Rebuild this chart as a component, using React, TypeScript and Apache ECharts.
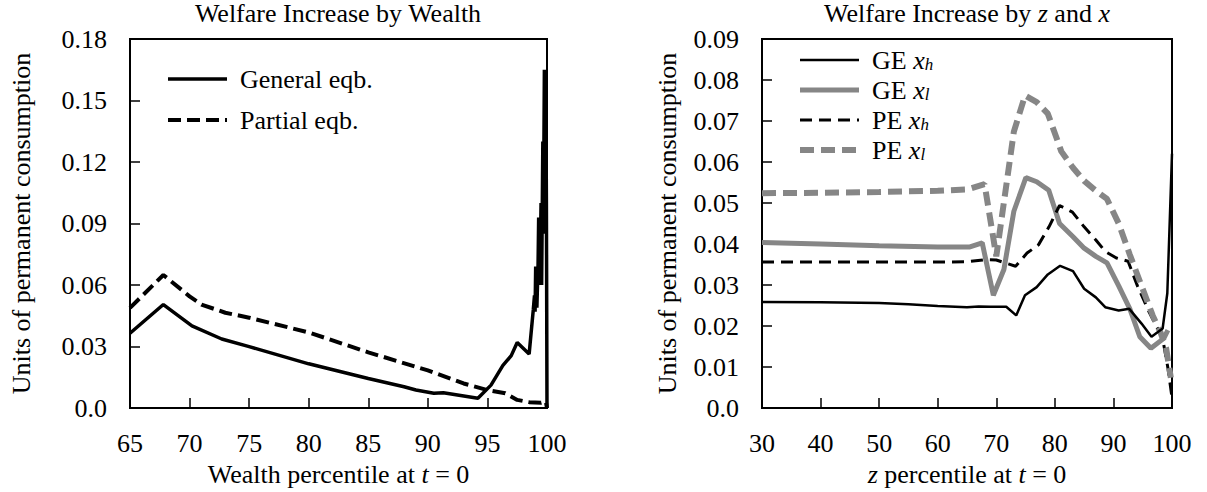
import React, { useEffect, useRef } from "react";
import * as echarts from "echarts";

// ---------- Data ----------
// Left panel: welfare increase by wealth percentile
const leftGeX = [65, 67.8, 70.2, 72.7, 75, 80, 85, 88, 89, 90.5, 91.3, 94.2, 95.3, 96.3, 97, 97.5, 98.5, 98.85, 98.95, 99.0, 99.05, 99.15, 99.25, 99.3, 99.4, 99.5, 99.55, 99.65, 99.7, 99.78, 99.85, 99.9, 99.95, 100];
const leftGeY = [0.0365, 0.0505, 0.0401, 0.0337, 0.030, 0.0216, 0.0144, 0.0104, 0.0088, 0.0072, 0.0075, 0.0048, 0.0112, 0.0208, 0.0256, 0.032, 0.0264, 0.048, 0.055, 0.047, 0.069, 0.049, 0.07, 0.093, 0.06, 0.1, 0.06, 0.13, 0.09, 0.165, 0.085, 0.16, 0.1, 0.0];
const leftPeX = [65, 67.8, 70, 71, 73, 75, 80, 85, 90, 93, 95, 96.5, 97.5, 98.5, 99.5, 99.9, 100];
const leftPeY = [0.0489, 0.0649, 0.0545, 0.0505, 0.0465, 0.0441, 0.0369, 0.0272, 0.0184, 0.012, 0.0088, 0.0072, 0.004, 0.0029, 0.0026, 0.0032, 0.0];

// Right panel: welfare increase by z and x
const geXhX = [30, 40, 50, 55, 60, 65, 67, 69, 71.7, 73.4, 74.9, 76.9, 78.8, 80.9, 83.1, 85, 87, 88.6, 90.9, 92.7, 94.8, 96.5, 98.4, 99.2, 99.6, 100];
const geXhY = [0.0259, 0.0258, 0.0256, 0.0253, 0.0249, 0.0246, 0.0248, 0.0247, 0.0247, 0.0226, 0.0275, 0.0295, 0.0326, 0.0347, 0.0334, 0.0291, 0.027, 0.0246, 0.0238, 0.0242, 0.0206, 0.0174, 0.0194, 0.028, 0.045, 0.062];
const geXlX = [30, 40, 50, 60, 65.5, 67.6, 69.5, 71.3, 73, 75.05, 76.9, 78.96, 80.8, 83.1, 85, 87, 88.9, 90.9, 92.8, 94.5, 96.4, 98.6, 99.3];
const geXlY = [0.0404, 0.040, 0.0396, 0.0393, 0.0393, 0.0403, 0.0275, 0.0338, 0.048, 0.0562, 0.0552, 0.0531, 0.045, 0.0418, 0.039, 0.037, 0.0354, 0.0298, 0.0242, 0.0174, 0.0146, 0.017, 0.019];
const peXhX = [30, 40, 50, 60, 65, 68.1, 70, 73.3, 75.25, 77.2, 79, 80.8, 83, 85, 87, 88.6, 90.5, 92.5, 94.1, 96.1, 98.4, 99.3, 100];
const peXhY = [0.0356, 0.0356, 0.0356, 0.0356, 0.0357, 0.0362, 0.0361, 0.0346, 0.0378, 0.0398, 0.0442, 0.0494, 0.0478, 0.0442, 0.041, 0.0382, 0.0366, 0.0358, 0.0298, 0.0234, 0.017, 0.0098, 0.0026];
const peXlX = [30, 40, 50, 60, 65, 68, 70, 73, 74.9, 76.9, 78.8, 81.1, 83.1, 85, 87, 88.9, 90.9, 92.8, 94.8, 96.7, 98, 99, 99.8];
const peXlY = [0.0524, 0.0525, 0.0527, 0.053, 0.0533, 0.0546, 0.037, 0.0674, 0.0762, 0.0746, 0.0718, 0.0626, 0.0586, 0.0554, 0.053, 0.051, 0.045, 0.0374, 0.0298, 0.0226, 0.0186, 0.0146, 0.0074];

const leftNames = ["General eqb.", "Partial eqb."];
const rightNames = ["GE x_h", "GE x_l", "PE x_h", "PE x_l"];

const FONT = "Liberation Serif";
const FS = 26;
const GRAY = "#868686";

const zip = (xs: number[], ys: number[]) => xs.map((x, i) => [x, ys[i]]);

const baseText = { fontFamily: FONT, fontSize: FS, color: "#000", fontWeight: "normal" as const };
const italic = { fontFamily: FONT, fontSize: FS, color: "#000", fontStyle: "italic" as const };

const fmtY = (v: number) => (Math.abs(v) < 1e-9 ? "0.0" : v.toFixed(2));

function xAxisCfg(grid: number, min: number, max: number, interval: number, name: string) {
  return {
    type: "value",
    gridIndex: grid,
    min,
    max,
    interval,
    axisLine: { lineStyle: { color: "#000", width: 2 } },
    axisTick: { inside: true, length: 10, lineStyle: { color: "#000", width: 1.5 } },
    axisLabel: { ...baseText, margin: 22 },
    splitLine: { show: false },
    name,
    nameLocation: "middle",
    nameGap: 48,
    nameTextStyle: { ...baseText, rich: { i: italic } },
  };
}

function yAxisCfg(grid: number, max: number, interval: number, nameGap: number) {
  return {
    type: "value",
    gridIndex: grid,
    min: 0,
    max,
    interval,
    axisLine: { lineStyle: { color: "#000", width: 2 } },
    axisTick: { inside: true, length: 10, lineStyle: { color: "#000", width: 1.5 } },
    axisLabel: { ...baseText, margin: 23, formatter: fmtY },
    splitLine: { show: false },
    name: "Units of permanent consumption",
    nameLocation: "middle",
    nameGap,
    nameTextStyle: { ...baseText },
  };
}

export default function App() {
  const ref = useRef<HTMLDivElement>(null);

  useEffect(() => {
    if (!ref.current) return;
    const chart = echarts.init(ref.current, null, { renderer: "svg" });

    const leftStyles = [
      { color: "#000", width: 3.5, type: "solid" as any },
      { color: "#000", width: 4, type: [13, 6] as any },
    ];
    const rightStyles = [
      { color: "#000", width: 2.5, type: "solid" as any },
      { color: GRAY, width: 5, type: "solid" as any },
      { color: "#000", width: 3, type: [12, 7] as any },
      { color: GRAY, width: 6, type: [14, 7] as any },
    ];
    const leftData = [zip(leftGeX, leftGeY), zip(leftPeX, leftPeY)];
    const rightData = [zip(geXhX, geXhY), zip(geXlX, geXlY), zip(peXhX, peXhY), zip(peXlX, peXlY)];

    const series: any[] = [];
    leftNames.forEach((n, i) => {
      series.push({
        type: "line", name: n, xAxisIndex: 0, yAxisIndex: 0, data: leftData[i], symbol: "none",
        color: leftStyles[i].color, lineStyle: { ...leftStyles[i] }, z: 3 - i,
      });
    });
    rightNames.forEach((n, i) => {
      series.push({
        type: "line", name: n, xAxisIndex: 1, yAxisIndex: 1, data: rightData[i], symbol: "none",
        color: rightStyles[i].color, lineStyle: { ...rightStyles[i] }, z: i === 0 ? 5 : 2,
      });
    });

    const option: any = {
      animation: false,
      backgroundColor: "#fff",
      title: [
        { text: "Welfare Increase by Wealth", left: 338, top: 0, padding: 0, textAlign: "center", textStyle: { ...baseText } },
        { text: "Welfare Increase by {i|z} and {i|x}", left: 967, top: 0, padding: 0, textAlign: "center", textStyle: { ...baseText, rich: { i: italic } } },
      ],
      grid: [
        { left: 130, right: 660, top: 39, bottom: 79, show: true, borderColor: "#000", borderWidth: 2, backgroundColor: "transparent" },
        { left: 762, right: 35, top: 39, bottom: 78, show: true, borderColor: "#000", borderWidth: 2, backgroundColor: "transparent" },
      ],
      xAxis: [
        xAxisCfg(0, 65, 100, 5, "Wealth percentile at {i|t} = 0"),
        xAxisCfg(1, 30, 100, 10, "{i|z} percentile at {i|t} = 0"),
      ],
      yAxis: [yAxisCfg(0, 0.18, 0.03, 96), yAxisCfg(1, 0.09, 0.01, 82)],
      legend: [
        {
          data: leftNames.map((n, i) => ({ name: n, lineStyle: { color: leftStyles[i].color, width: leftStyles[i].width, type: leftStyles[i].type }, itemStyle: { opacity: 0 } })),
          orient: "vertical", left: 166, top: 66, padding: 0, itemWidth: 59, itemHeight: 22, itemGap: 15, selectedMode: false,
          textStyle: { ...baseText, padding: [0, 0, 0, 8] },
        },
        {
          data: rightNames.map((n, i) => ({ name: n, lineStyle: { color: rightStyles[i].color, width: rightStyles[i].width, type: rightStyles[i].type }, itemStyle: { opacity: 0 } })),
          orient: "vertical", left: 797, top: 44, padding: 0, itemWidth: 59, itemHeight: 22, itemGap: 1, selectedMode: false,
          formatter: (name: string) => {
            const parts = name.split(" x_");
            return `${parts[0]} {i|x}{s|${parts[1]}}`;
          },
          textStyle: {
            ...baseText,
            padding: [0, 0, 0, 8],
            rich: {
              i: italic,
              s: { fontFamily: FONT, fontStyle: "italic", fontSize: 17, color: "#000", lineHeight: 17, padding: [12, 0, 0, 0], verticalAlign: "bottom" },
            },
          },
        },
      ],
      series,
    };

    chart.setOption(option);
    return () => chart.dispose();
  }, []);

  return <div ref={ref} style={{ position: "fixed", left: 0, top: 0, width: 1207, height: 492, background: "#fff" }} />;
}
